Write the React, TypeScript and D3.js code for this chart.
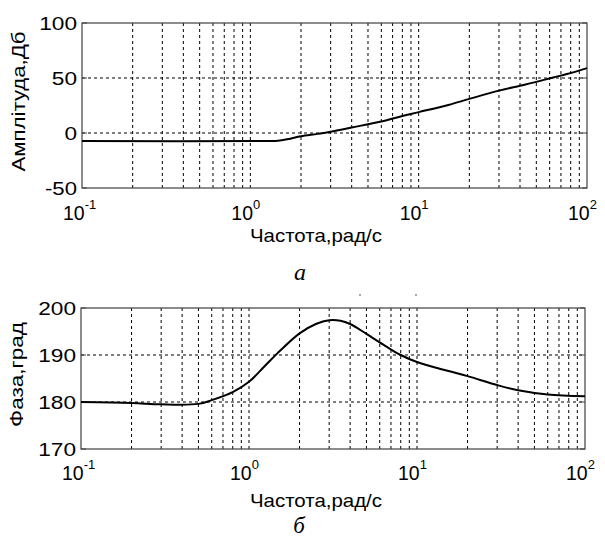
import React from "react";
import * as d3 from "d3";

const ampFreq = [0.1, 1.4, 1.5, 1.7, 2, 2.5, 3, 4, 6, 8, 10, 15, 20, 30, 40, 50, 63, 76, 100];
const ampDb = [-7.2, -7.2, -6.9, -5.4, -3, -0.8, 1.2, 5, 10.5, 15.5, 19, 25.5, 31, 38.5, 43, 46.5, 50.5, 53.6, 59];

const phFreq = [0.1, 0.2, 0.3, 0.5, 0.6, 0.8, 1, 1.23, 1.48, 2, 2.5, 3, 3.5, 4, 5, 6.5, 8, 10, 15, 20, 30, 40, 60, 100];
const phDeg = [180, 179.8, 179.5, 179.6, 180.4, 182.1, 184.3, 187.5, 190.4, 194.6, 196.6, 197.4, 197.3, 196.6, 194.5, 191.9, 190, 188.5, 186.7, 185.5, 183.6, 182.5, 181.6, 181.2];

const ampTicks = [100, 50, 0, -50];
const phTicks = [200, 190, 180, 170];
const decadeExps = [-1, 0, 1, 2];
const xLabel = "Частота,рад/с";

const FONT = "'Liberation Sans', Arial, sans-serif";

type PanelProps = {
  left: number; right: number; top: number; bottom: number;
  yDomain: [number, number]; yTicks: number[];
  xs: number[]; ys: number[]; yLabel: string; yLabelLen: number; yLabelX: number;
  tickBaseline: number; xLabelBaseline: number;
};

function Panel(p: PanelProps) {
  const x = d3.scaleLog().domain([0.1, 100]).range([p.left, p.right]);
  const y = d3.scaleLinear().domain(p.yDomain).range([p.bottom, p.top]);
  const minor: number[] = [];
  for (let e = -1; e < 2; e++) for (let k = 1; k <= 9; k++) minor.push(k * Math.pow(10, e));
  const line = d3.line<number>().x((_, i) => x(p.xs[i])).y((d) => y(d)).curve(d3.curveCatmullRom.alpha(0.5));
  return (
    <g>
      {minor.filter((v) => v > 0.1 && v < 100).map((v) => (
        <line key={"vx" + v} x1={x(v)} x2={x(v)} y1={p.top} y2={p.bottom} stroke="#000" strokeWidth={1} strokeDasharray="3,3" />
      ))}
      {p.yTicks.filter((t) => t !== p.yDomain[0] && t !== p.yDomain[1]).map((t) => (
        <line key={"hy" + t} x1={p.left} x2={p.right} y1={y(t)} y2={y(t)} stroke="#000" strokeWidth={1} strokeDasharray="3,3" />
      ))}
      {p.yTicks.map((t) => (
        <g key={"tk" + t}>
          <line x1={p.left} x2={p.left + 5} y1={y(t)} y2={y(t)} stroke="#444" />
          <line x1={p.right} x2={p.right - 5} y1={y(t)} y2={y(t)} stroke="#444" />
        </g>
      ))}
      <rect x={p.left} y={p.top} width={p.right - p.left} height={p.bottom - p.top} fill="none" stroke="#404040" strokeWidth={1.2} />
      <path d={line(p.ys) || ""} fill="none" stroke="#000" strokeWidth={2} />
      {p.yTicks.map((t) => {
        const s = String(t);
        const w = s.length * 12.6 + (s.startsWith("-") ? -5.8 : 0);
        return (
          <text key={"yl" + t} x={p.left - 5 - w} y={y(t) + 6.5} fontFamily={FONT} fontSize={18.5} textLength={w} lengthAdjust="spacingAndGlyphs" fill="#000">
            {s}
          </text>
        );
      })}
      {decadeExps.map((e) => {
        const xv = x(Math.pow(10, e));
        return (
          <text key={"xl" + e} x={xv - 19} y={p.tickBaseline} fontFamily={FONT} fontSize={19.5} fill="#000">
            10<tspan dy={-11} fontSize={13}>{String(e)}</tspan>
          </text>
        );
      })}
      <text x={316} y={p.xLabelBaseline} fontFamily={FONT} fontSize={18.5} textAnchor="middle" textLength={132} lengthAdjust="spacingAndGlyphs" fill="#000">
        {xLabel}
      </text>
      <text transform={`translate(${p.yLabelX},${(p.top + p.bottom) / 2 - 4}) rotate(-90)`} fontFamily={FONT} fontSize={19} textAnchor="middle" textLength={p.yLabelLen} lengthAdjust="spacingAndGlyphs" fill="#000">
        {p.yLabel}
      </text>
    </g>
  );
}

export default function App() {
  return (
    <svg width={605} height={540} style={{ position: "absolute", left: 0, top: 0, background: "#fff" }}>
      <rect width={605} height={540} fill="#fff" />
      <Panel left={82} right={587} top={23} bottom={188} yDomain={[-50, 100]} yTicks={ampTicks}
        xs={ampFreq} ys={ampDb} yLabel="Амплітуда,Дб" yLabelLen={140} yLabelX={25}
        tickBaseline={220} xLabelBaseline={242} />
      <text x={300} y={280} fontFamily="'Liberation Serif', 'Times New Roman', serif" fontStyle="italic" fontSize={24} textAnchor="middle">а</text>
      <line x1={359} x2={361} y1={295} y2={295} stroke="#555" />
      <line x1={415} x2={417} y1={295} y2={295} stroke="#555" />
      <Panel left={81} right={585} top={308} bottom={449} yDomain={[170, 200]} yTicks={phTicks}
        xs={phFreq} ys={phDeg} yLabel="Фаза,град" yLabelLen={105} yLabelX={23}
        tickBaseline={480} xLabelBaseline={507} />
      <text x={299} y={533} fontFamily="'Liberation Serif', 'Times New Roman', serif" fontStyle="italic" fontSize={23} textAnchor="middle">б</text>
    </svg>
  );
}
